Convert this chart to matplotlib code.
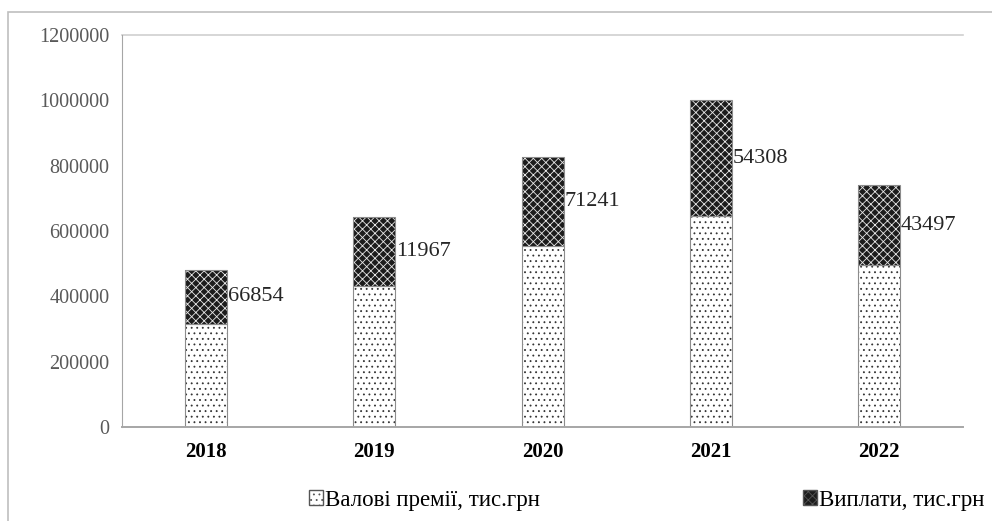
import matplotlib.pyplot as plt
from matplotlib.patches import Patch, Rectangle
import numpy as np

plt.rcParams['font.family'] = ['Liberation Serif', 'DejaVu Serif']
plt.rcParams['hatch.linewidth'] = 0.6

years = ['2018', '2019', '2020', '2021', '2022']
premiums = [315000, 432000, 554000, 646000, 496000]
payouts = [166854, 211967, 271241, 354308, 243497]
payout_labels = ['66854', '11967', '71241', '54308', '43497']

fig = plt.figure(figsize=(9.92, 5.21), dpi=100)
ax = fig.add_axes([0.123, 0.180, 0.848, 0.753])

x = np.arange(len(years))
w = 0.25

# lower part: white with dots
ax.bar(x, premiums, w, color='white', edgecolor='#333333', hatch='...', linewidth=0)
ax.bar(x, premiums, w, color='none', edgecolor='#8c8c8c', linewidth=0.8)
# upper part: dark with white lattice
ax.bar(x, payouts, w, bottom=premiums, color='#1c1c1c', edgecolor='#e8e8e8', hatch='xxxx', linewidth=0)
ax.bar(x, payouts, w, bottom=premiums, color='none', edgecolor='#8c8c8c', linewidth=0.8)

for i in range(len(years)):
    ax.text(x[i] + w / 2 + 0.005, premiums[i] + payouts[i] / 2, payout_labels[i],
            ha='left', va='center', fontsize=16, color='#262626')

ax.set_xlim(-0.5, 4.5)
ax.set_ylim(0, 1200000)
ax.set_yticks(np.arange(0, 1200001, 200000))
ax.set_yticklabels([str(v) for v in range(0, 1200001, 200000)], fontsize=14.5, color='#595959')
ax.set_xticks(x)
ax.set_xticklabels(years, fontsize=15, fontweight='bold', color='black')
ax.tick_params(axis='both', length=0)
ax.tick_params(axis='x', pad=11)
ax.tick_params(axis='y', pad=9)
ax.axhline(1200000, color='#d0d0d0', linewidth=1.2, clip_on=False)
for s in ['top', 'right']:
    ax.spines[s].set_visible(False)
ax.spines['left'].set_color('#a6a6a6')
ax.spines['left'].set_linewidth(0.8)
ax.spines['bottom'].set_color('#a6a6a6')
ax.spines['bottom'].set_linewidth(1.4)

handles = [
    Patch(facecolor='white', edgecolor='#555555', hatch='...', label='Валові премії, тис.грн'),
    Patch(facecolor='#1c1c1c', edgecolor='#555555', hatch='xxxx', label='Виплати, тис.грн'),
]
leg = fig.legend(handles=handles, loc='center', bbox_to_anchor=(0.652, 0.04), ncol=2,
                 frameon=False, prop={'family': 'Liberation Serif', 'size': 16.5},
                 handlelength=0.6, handleheight=0.6, handletextpad=0.1, columnspacing=11.5)

# outer chart frame
fig.patches.append(Rectangle((0.008, -0.1), 1.2, 1.077, transform=fig.transFigure,
                             fill=False, edgecolor='#bfbfbf', linewidth=1.2))

fig.savefig('out.png', dpi=100)
